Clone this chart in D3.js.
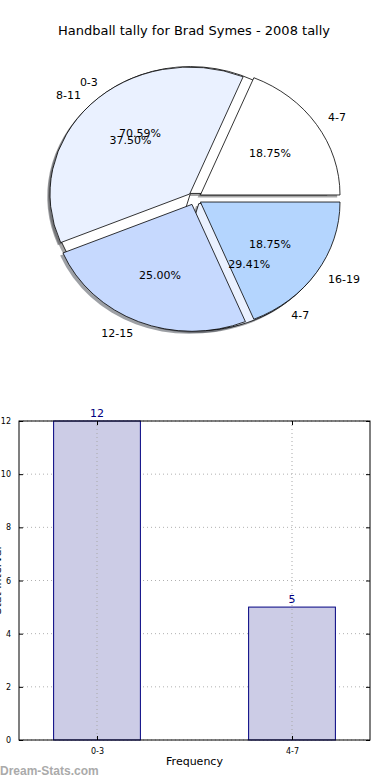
<!DOCTYPE html>
<html>
<head>
<meta charset="utf-8">
<script src="https://cdn.jsdelivr.net/npm/d3@7"></script>
<style>
  body { margin: 0; background: #fff; }
  text { font-family: "DejaVu Sans", sans-serif; }
</style>
</head>
<body>
<div id="chart"></div>
<script>
// pie data (two pies drawn over each other, like the original)
var pieBLabels = ['0-3', '4-7'];
var pieBValues = [12, 5];
var pieBColors = ['#ffffff', '#eaf1ff'];

var pieALabels = ['4-7', '8-11', '12-15', '16-19'];
var pieAValues = [3, 6, 4, 3];
var pieAColors = ['#ffffff', '#eaf1ff', '#c6d9fe', '#b4d5fe'];

// bar data
var barCategories = ['0-3', '4-7'];
var barValues = [12, 5];
var yTicks = [0, 2, 4, 6, 8, 10, 12];

function buildChart(containerId) {
    var width = 390;
    var height = 780;

    var svg = d3.select(containerId)
        .append('svg')
        .attr('width', width)
        .attr('height', height);

    // title
    svg.append('text')
        .attr('x', 194)
        .attr('y', 35)
        .attr('text-anchor', 'middle')
        .style('font-size', '13px')
        .text('Handball tally for Brad Symes - 2008 tally');

    // ---- pie ----
    var cx = 194.6, cy = 198.5, rx = 139.6, ry = 126.9;
    var explode = 0.05;
    var shadowOff = 0.02;

    // matplotlib starts at 3 o'clock going counter clockwise
    var pie = d3.pie().sort(null)
        .startAngle(Math.PI / 2)
        .endAngle(Math.PI / 2 - 2 * Math.PI);

    var arc = d3.arc().innerRadius(0).outerRadius(1);

    var arcsB = pie(pieBValues);
    var arcsA = pie(pieAValues);

    var shadowLayer = svg.append('g');
    var wedgeLayer = svg.append('g');
    var textLayer = svg.append('g');

    function midAngle(d) { return (d.startAngle + d.endAngle) / 2; }

    function drawPie(arcs, colors, labels) {
        var total = d3.sum(arcs, function (e) { return e.value; });
        arcs.forEach(function (d, i) {
            var a = midAngle(d);
            var ox = explode * Math.sin(a);
            var oy = -explode * Math.cos(a);

            var c = d3.rgb(colors[i]);
            shadowLayer.append('path')
                .attr('transform', 'translate(' + (cx + (ox - shadowOff) * rx) + ',' + (cy + (oy + shadowOff) * ry) + ') scale(' + rx + ',' + ry + ')')
                .attr('d', arc(d))
                .style('fill', d3.rgb(c.r * 0.3, c.g * 0.3, c.b * 0.3))
                .style('fill-opacity', 0.5);

            wedgeLayer.append('path')
                .attr('transform', 'translate(' + (cx + ox * rx) + ',' + (cy + oy * ry) + ') scale(' + rx + ',' + ry + ')')
                .attr('d', arc(d))
                .style('fill', colors[i])
                .style('stroke', '#000')
                .style('stroke-width', 0.8)
                .attr('vector-effect', 'non-scaling-stroke');

            var lx = cx + (explode + 1.1) * rx * Math.sin(a);
            var ly = cy - (explode + 1.1) * ry * Math.cos(a);
            textLayer.append('text')
                .attr('x', lx)
                .attr('y', ly)
                .attr('dy', '0.35em')
                .attr('text-anchor', Math.sin(a) > 0 ? 'start' : 'end')
                .style('font-size', '11px')
                .text(labels[i]);

            var px = cx + (explode + 0.6) * rx * Math.sin(a);
            var py = cy - (explode + 0.6) * ry * Math.cos(a);
            textLayer.append('text')
                .attr('x', px)
                .attr('y', py)
                .attr('dy', '0.35em')
                .attr('text-anchor', 'middle')
                .style('font-size', '11px')
                .text((d.value / total * 100).toFixed(2) + '%');
        });
    }

    drawPie(arcsB, pieBColors, pieBLabels);
    drawPie(arcsA, pieAColors, pieALabels);

    // ---- bar chart ----
    var left = 19, right = 370, top = 421, bottom = 740;

    var x = d3.scaleLinear().domain([-0.4, 1.4]).range([left, right]);
    var y = d3.scaleLinear().domain([0, 12]).range([bottom, top]);
    var barWidth = 0.445;

    var plot = svg.append('g');

    // horizontal grid behind bars
    plot.selectAll('.hgrid')
        .data(yTicks)
        .enter()
        .append('line')
        .attr('x1', left).attr('x2', right)
        .attr('y1', function (d) { return y(d); })
        .attr('y2', function (d) { return y(d); })
        .style('stroke', '#b0b0b0')
        .style('stroke-width', 1)
        .style('stroke-dasharray', '1,3');

    plot.selectAll('.bar')
        .data(barValues)
        .enter()
        .append('rect')
        .attr('x', function (d, i) { return x(i - barWidth / 2); })
        .attr('y', function (d) { return y(d); })
        .attr('width', x(barWidth) - x(0))
        .attr('height', function (d) { return y(0) - y(d); })
        .style('fill', '#ccccE6')
        .style('stroke', 'navy')
        .style('stroke-width', 1);

    // vertical grid over bars
    plot.selectAll('.vgrid')
        .data(barCategories)
        .enter()
        .append('line')
        .attr('x1', function (d, i) { return x(i); })
        .attr('x2', function (d, i) { return x(i); })
        .attr('y1', top).attr('y2', bottom)
        .style('stroke', '#a8a8a8')
        .style('stroke-width', 1)
        .style('stroke-dasharray', '1,3');

    // value labels
    plot.selectAll('.val')
        .data(barValues)
        .enter()
        .append('text')
        .attr('x', function (d, i) { return x(i); })
        .attr('y', function (d) { return y(d) - 4; })
        .attr('text-anchor', 'middle')
        .style('font-size', '11px')
        .style('fill', 'navy')
        .text(function (d) { return d; });

    // frame
    plot.append('rect')
        .attr('x', left).attr('y', top)
        .attr('width', right - left).attr('height', bottom - top)
        .style('fill', 'none')
        .style('stroke', '#000')
        .style('stroke-width', 1);

    // axes with inward ticks
    var yAxis = d3.axisLeft(y).tickValues(yTicks).tickSize(-4).tickPadding(8);
    var yAxisR = d3.axisRight(y).tickValues(yTicks).tickSize(-4).tickFormat('');
    var xAxis = d3.axisBottom(x).tickValues([0, 1]).tickSize(-4).tickPadding(8)
        .tickFormat(function (d) { return barCategories[d]; });
    var xAxisT = d3.axisTop(x).tickValues([0, 1]).tickSize(-4).tickFormat('');

    [[yAxis, 'translate(' + left + ',0)'], [yAxisR, 'translate(' + right + ',0)'],
     [xAxis, 'translate(0,' + bottom + ')'], [xAxisT, 'translate(0,' + top + ')']].forEach(function (p) {
        var g = plot.append('g').attr('transform', p[1]).call(p[0]);
        g.select('.domain').remove();
        g.selectAll('text').style('font-size', '8px').style('font-family', '"DejaVu Sans", sans-serif').style('fill', '#000');
        g.selectAll('line').style('stroke', '#000');
    });

    // axis labels
    svg.append('text')
        .attr('x', (left + right) / 2)
        .attr('y', 765)
        .attr('text-anchor', 'middle')
        .style('font-size', '11px')
        .text('Frequency');

    // y label, mostly cut off at the left edge as in the original
    svg.append('text')
        .attr('transform', 'translate(1,' + ((top + bottom) / 2) + ') rotate(-90)')
        .attr('text-anchor', 'middle')
        .style('font-size', '11px')
        .text('Stat Interval');

    // watermark
    svg.append('text')
        .attr('x', 0)
        .attr('y', 775)
        .style('font-family', '"Liberation Sans", sans-serif')
        .style('font-size', '12px')
        .style('font-weight', 'bold')
        .style('fill', '#aaaaaa')
        .text('Dream-Stats.com');
}

buildChart('#chart');
</script>
</body>
</html>
